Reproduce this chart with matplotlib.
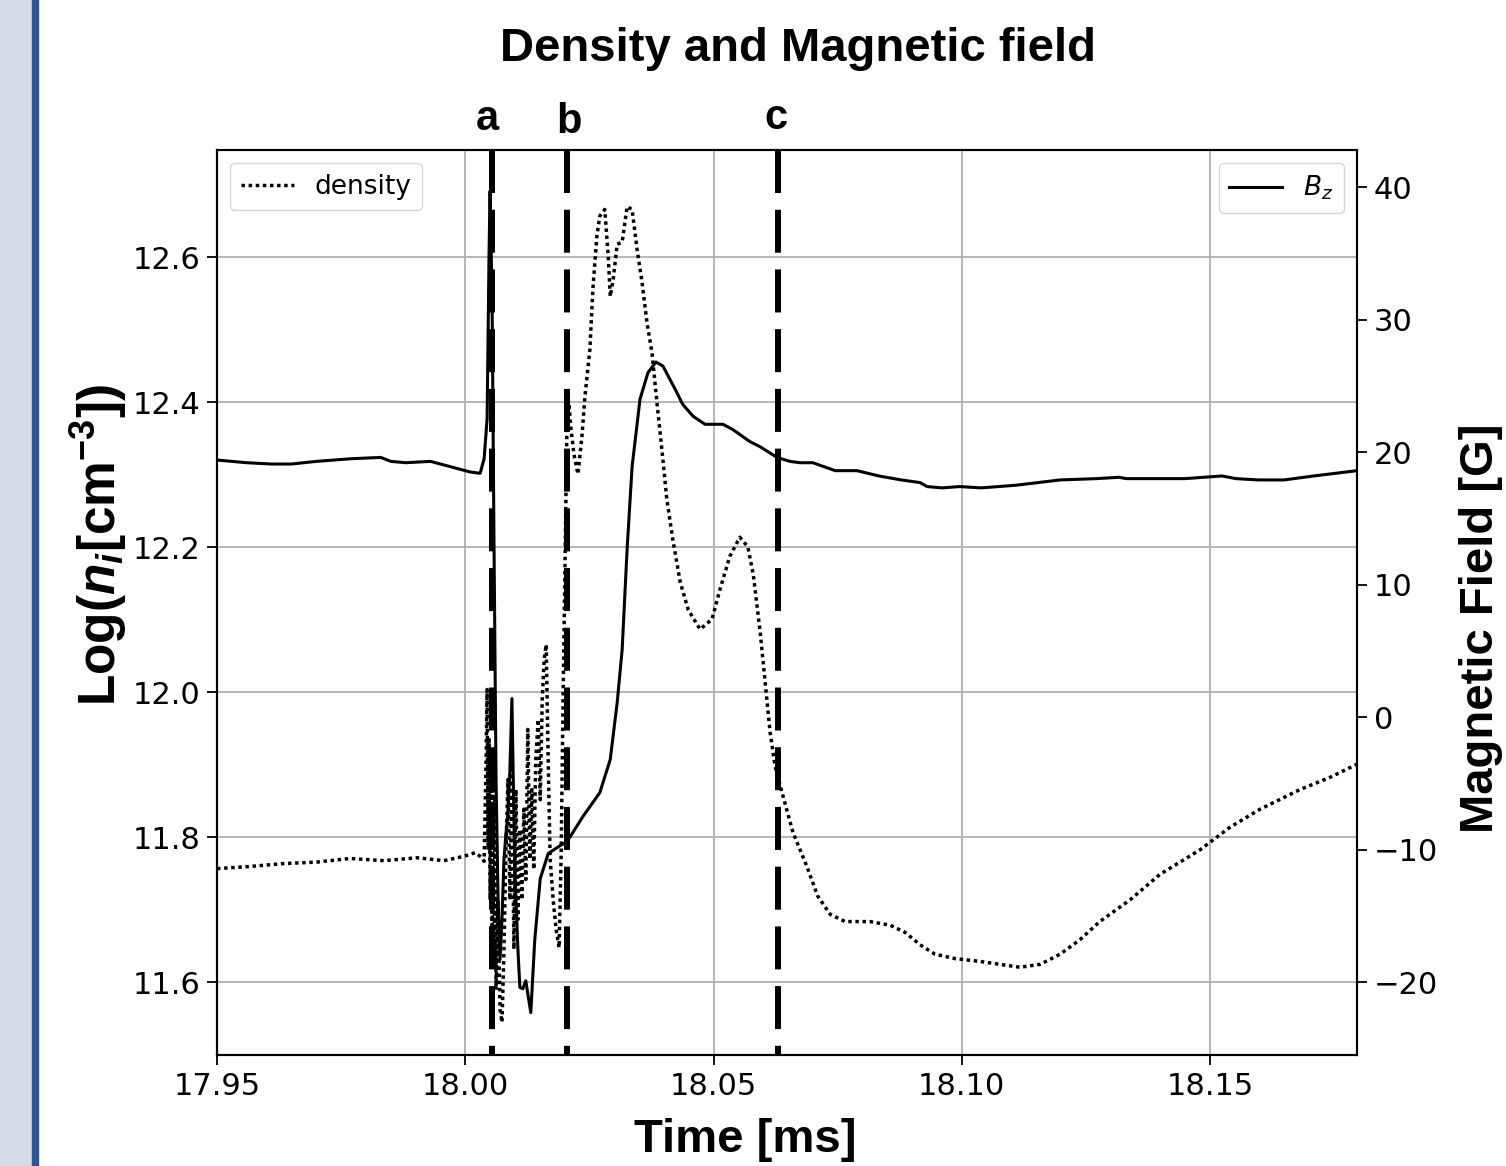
import numpy as np
import matplotlib
matplotlib.use("Agg")
import matplotlib.pyplot as plt
from matplotlib.patches import Rectangle

# density trace (log n_i), time in ms
t_dens = [17.9500, 17.9566, 17.9635, 17.9701, 17.9768, 17.9836, 17.9903, 17.9957, 17.9997, 18.0020,
          18.0034, 18.0038, 18.0042, 18.0044, 18.0046, 18.0048, 18.0050, 18.0052, 18.0054, 18.0056,
          18.0058, 18.0060, 18.0062, 18.0066, 18.0070, 18.0074, 18.0078, 18.0082, 18.0086, 18.0090,
          18.0094, 18.0098, 18.0102, 18.0106, 18.0110, 18.0114, 18.0118, 18.0122, 18.0126, 18.0130,
          18.0134, 18.0138, 18.0142, 18.0147, 18.0151, 18.0155, 18.0159, 18.0163, 18.0167, 18.0171,
          18.0177, 18.0183, 18.0189, 18.0193, 18.0197, 18.0201, 18.0205, 18.0209, 18.0213, 18.0219,
          18.0227, 18.0235, 18.0241, 18.0251, 18.0257, 18.0265, 18.0271, 18.0281, 18.0288, 18.0292,
          18.0298, 18.0306, 18.0316, 18.0326, 18.0336, 18.0346, 18.0356, 18.0366, 18.0376, 18.0386,
          18.0396, 18.0406, 18.0418, 18.0433, 18.0449, 18.0473, 18.0497, 18.0513, 18.0533, 18.0553,
          18.0569, 18.0580, 18.0594, 18.0604, 18.0614, 18.0624, 18.0638, 18.0660, 18.0688, 18.0710,
          18.0735, 18.0765, 18.0815, 18.0856, 18.0886, 18.0916, 18.0946, 18.0986, 18.1037, 18.1077,
          18.1117, 18.1158, 18.1198, 18.1238, 18.1278, 18.1339, 18.1399, 18.1480, 18.1540, 18.1601,
          18.1681, 18.1742, 18.1796]
log_n = [11.757, 11.760, 11.764, 11.766, 11.771, 11.768, 11.772, 11.768, 11.774, 11.779,
         11.772, 11.767, 11.908, 12.004, 11.783, 11.935, 11.714, 11.908, 11.659, 11.880,
         11.632, 11.852, 11.590, 11.714, 11.563, 11.545, 11.646, 11.783, 11.880, 11.714,
         11.894, 11.646, 11.866, 11.687, 11.811, 11.714, 11.839, 11.742, 11.949, 11.770,
         11.866, 11.756, 11.908, 11.963, 11.852, 11.990, 12.046, 12.066, 11.908, 11.770,
         11.714, 11.673, 11.648, 11.770, 11.990, 12.183, 12.377, 12.397, 12.363, 12.328,
         12.301, 12.353, 12.408, 12.473, 12.556, 12.629, 12.657, 12.666, 12.601, 12.546,
         12.570, 12.618, 12.621, 12.670, 12.666, 12.611, 12.566, 12.510, 12.469, 12.400,
         12.335, 12.266, 12.211, 12.152, 12.114, 12.087, 12.101, 12.142, 12.188, 12.214,
         12.201, 12.163, 12.083, 12.014, 11.945, 11.898, 11.862, 11.807, 11.760, 11.719,
         11.694, 11.684, 11.684, 11.679, 11.669, 11.652, 11.639, 11.633, 11.629, 11.625,
         11.621, 11.625, 11.639, 11.659, 11.684, 11.714, 11.749, 11.783, 11.814, 11.839,
         11.866, 11.883, 11.901]

# magnetic field B_z [G]
t_bz = [17.9500, 17.9560, 17.9610, 17.9650, 17.9700, 17.9770, 17.9830, 17.9850, 17.9880, 17.9930,
        17.9970, 18.0010, 18.0030, 18.0038, 18.0044, 18.0048, 18.0050, 18.0054, 18.0058, 18.0062,
        18.0066, 18.0070, 18.0074, 18.0078, 18.0082, 18.0086, 18.0090, 18.0094, 18.0097, 18.0100,
        18.0106, 18.0110, 18.0116, 18.0122, 18.0126, 18.0132, 18.0140, 18.0151, 18.0167, 18.0191,
        18.0205, 18.0237, 18.0271, 18.0292, 18.0306, 18.0316, 18.0326, 18.0336, 18.0352, 18.0368,
        18.0384, 18.0398, 18.0422, 18.0438, 18.0459, 18.0483, 18.0519, 18.0539, 18.0573, 18.0594,
        18.0628, 18.0654, 18.0674, 18.0700, 18.0745, 18.0789, 18.0833, 18.0878, 18.0916, 18.0930,
        18.0960, 18.0996, 18.1039, 18.1109, 18.1198, 18.1272, 18.1317, 18.1331, 18.1375, 18.1450,
        18.1524, 18.1552, 18.1597, 18.1649, 18.1709, 18.1796]
bz = [19.4, 19.2, 19.1, 19.1, 19.3, 19.5, 19.6, 19.3, 19.2, 19.3,
      18.9, 18.5, 18.4, 19.5, 22.5, 35.3, 39.7, 31.5, 12.7, -4.7,
      -13.7, -18.3, -15.2, -10.7, -8.8, -7.3, -3.9, 1.4, -5.4, -11.7,
      -17.5, -20.4, -20.5, -19.9, -20.9, -22.3, -16.8, -12.2, -10.3, -9.7,
      -9.4, -7.5, -5.7, -3.2, 1.1, 5.1, 12.7, 18.9, 24.0, 26.0,
      26.8, 26.5, 24.8, 23.6, 22.7, 22.1, 22.1, 21.7, 20.8, 20.4,
      19.6, 19.3, 19.2, 19.2, 18.6, 18.6, 18.2, 17.9, 17.7, 17.4,
      17.3, 17.4, 17.3, 17.5, 17.9, 18.0, 18.1, 18.0, 18.0, 18.0,
      18.2, 18.0, 17.9, 17.9, 18.2, 18.6]

event_t = [18.0053, 18.0204, 18.0630]
event_lbl = ["a", "b", "c"]

W, H = 1506, 1166
fig = plt.figure(figsize=(W / 100, H / 100), dpi=100)

# slide side strip
fig.patches.append(Rectangle((0, 0), 32 / W, 1, transform=fig.transFigure,
                             color="#d5dce7", zorder=0))
fig.patches.append(Rectangle((32 / W, 0), 6 / W, 1, transform=fig.transFigure,
                             color="#2f5597", zorder=0))

ax = fig.add_axes([217 / W, 1 - 1055 / H, 1140 / W, 905 / H])
ax.plot(t_dens, log_n, color="black", ls=(0, (1, 1.05)), lw=2.5, label="density")
ax.set_xlim(17.95, 18.1796)
ax.set_ylim(11.50, 12.748)
ax.set_xticks([17.95, 18.00, 18.05, 18.10, 18.15])
ax.set_xticklabels(["17.95", "18.00", "18.05", "18.10", "18.15"])
ax.set_yticks([11.6, 11.8, 12.0, 12.2, 12.4, 12.6])
ax.grid(True, color="#b0b0b0", lw=1.3)
ax.legend(loc="upper left", fontsize=19)

ax2 = ax.twinx()
ax2.plot(t_bz, bz, color="black", lw=2.2, label="$B_z$")
ax2.set_ylim(-25.5, 42.8)
ax2.set_yticks([-20, -10, 0, 10, 20, 30, 40])
ax2.legend(loc="upper right", fontsize=19)
for t in event_t:
    ax2.plot([t, t], [1, 0], transform=ax2.get_xaxis_transform(), color="black",
             lw=4.3, ls=(0, (7.2, 2.8)), solid_capstyle="butt", dash_capstyle="butt")

for a in (ax, ax2):
    a.tick_params(labelsize=22, length=7, width=1.3, pad=5)
    for s in a.spines.values():
        s.set_linewidth(1.5)

# slide annotations
bold = dict(family="Liberation Sans", weight="bold", color="black")
fig.text(798 / W, 1 - 49 / H, "Density and Magnetic field", ha="center", va="center",
         fontsize=34, **bold)
for (x, y), s in zip([(487, 119), (569, 122), (776, 118)], event_lbl):
    fig.text(x / W, 1 - y / H, s, ha="center", va="center", fontsize=30, **bold)
fig.text(745 / W, 1 - 1140 / H, "Time [ms]", ha="center", va="center", fontsize=34, **bold)
fig.text(1481 / W, 1 - 628 / H, "Magnetic Field [G]", ha="center", va="center",
         rotation=90, fontsize=34, **bold)

plt.rcParams["mathtext.it"] = "Liberation Sans:italic:bold"
plt.rcParams["mathtext.rm"] = "Liberation Sans:bold"
plt.rcParams["mathtext.bf"] = "Liberation Sans:bold"
fig.text(99 / W, 1 - 545 / H, "Log($n_i$[cm$^{\\mathrm{-3}}$])", ha="center", va="center",
         rotation=90, fontsize=37, math_fontfamily="custom", **bold)

fig.savefig("out.png", dpi=100)
